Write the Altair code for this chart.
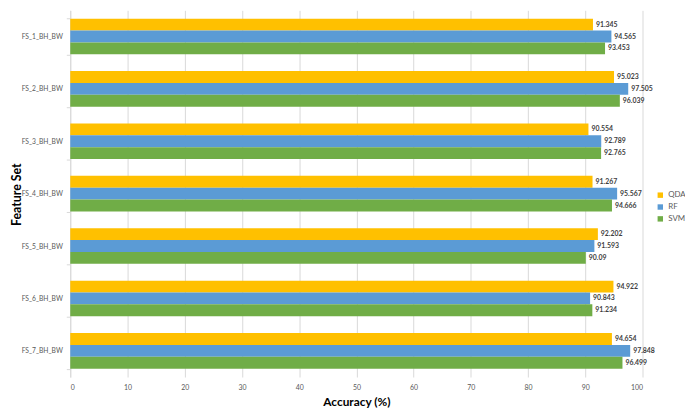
import altair as alt
import pandas as pd

feature_sets = ["FS_1_BH_BW", "FS_2_BH_BW", "FS_3_BH_BW", "FS_4_BH_BW",
                "FS_5_BH_BW", "FS_6_BH_BW", "FS_7_BH_BW"]
qda = [91.345, 95.023, 90.554, 91.267, 92.202, 94.922, 94.654]
rf = [94.565, 97.505, 92.789, 95.567, 91.593, 90.843, 97.848]
svm = [93.453, 96.039, 92.765, 94.666, 90.09, 91.234, 96.499]
models = ["QDA", "RF", "SVM"]
colors = ["#FFC000", "#5B9BD5", "#70AD47"]

rows = []
for i, fs in enumerate(feature_sets):
    for m, vals in zip(models, [qda, rf, svm]):
        rows.append({"fs": fs, "model": m, "acc": vals[i], "label": str(vals[i])})
df = pd.DataFrame(rows)

FONT = "Lato"

y = alt.Y("fs:N", sort=feature_sets,
          scale=alt.Scale(paddingInner=0.32, paddingOuter=0.16),
          axis=alt.Axis(title="Feature Set", titleFontSize=12.5, titleFontWeight="bold",
                        titleColor="#000000", titleX=-54, titleY=186,
                        titleAngle=270, titleAlign="center", titleBaseline="middle",
                        labelFontSize=6.8, labelColor="#595959", labelPadding=4,
                        domainColor="#D9D9D9", ticks=True, tickBand="extent",
                        tickColor="#D9D9D9", tickSize=4, grid=False))
yoff = alt.YOffset("model:N", sort=models)

bars = alt.Chart(df).mark_bar().encode(
    x=alt.X("acc:Q", scale=alt.Scale(domain=[0, 100]),
            axis=alt.Axis(title="Accuracy (%)", titleFontSize=12, titleFontWeight="bold",
                          titleColor="#000000", titlePadding=6,
                          values=list(range(0, 101, 10)), labelFontSize=7,
                          labelColor="#595959", labelPadding=7,
                          ticks=False, domain=False, gridColor="#D9D9D9")),
    y=y,
    yOffset=yoff,
    color=alt.Color("model:N", sort=models,
                    scale=alt.Scale(domain=models, range=colors),
                    legend=alt.Legend(title=None, orient="none", legendX=593, legendY=183,
                                      symbolType="square", symbolSize=30,
                                      labelFontSize=8, labelColor="#595959",
                                      rowPadding=4, symbolStrokeWidth=0)),
)

text = alt.Chart(df).mark_text(align="left", baseline="middle", dx=3,
                               fontSize=7, fontWeight="bold", color="#404040",
                               font=FONT).encode(
    x=alt.X("acc:Q"),
    y=alt.Y("fs:N", sort=feature_sets),
    yOffset=yoff,
    text="label:N",
)

chart = (bars + text).properties(
    width=579, height=371,
    autosize=alt.AutoSizeParams(type="none"),
    padding={"left": 63, "top": 0, "right": 43, "bottom": 30},
).configure(font=FONT).configure_view(stroke=None)

chart.save("out.html", embed_options={"renderer": "svg", "actions": False})
